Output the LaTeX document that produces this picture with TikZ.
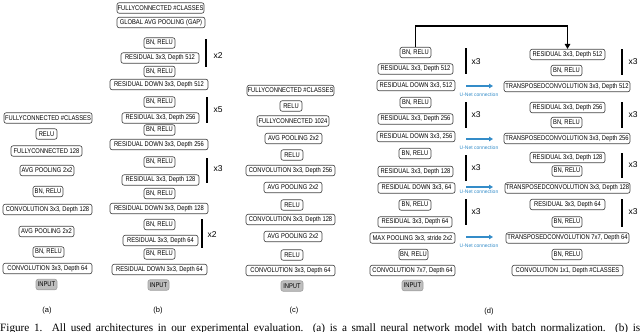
\documentclass[tikz,border=0pt]{standalone}
\usepackage{fontspec}
\usetikzlibrary{arrows.meta}
\newfontfamily\boxfont[FakeStretch=0.84]{Liberation Sans}
\newfontfamily\labfont{Liberation Sans}
\newfontfamily\capfont{Liberation Serif}
\definecolor{unetblue}{RGB}{52,140,200}
\definecolor{boxline}{RGB}{70,70,70}
\definecolor{inpfill}{RGB}{190,190,190}
\tikzset{
  blk/.style={draw=boxline, fill=white, line width=0.65pt, rounded corners=2.2pt,
    minimum height=10.5pt, inner sep=0pt, align=center,
    font=\boxfont\fontsize{6.9}{7}\selectfont},
  inp/.style={blk, fill=inpfill, draw=inpfill!85!black},
  brk/.style={line width=1.3pt, black},
  rep/.style={font=\labfont\fontsize{8.5}{9}\selectfont, inner sep=0pt},
  panel/.style={font=\labfont\fontsize{7.5}{9}\selectfont, inner sep=0pt},
  unet/.style={line width=1.3pt, unetblue, -{Triangle[length=4pt,width=4.5pt]}},
  unetlab/.style={font=\labfont\fontsize{5}{6}\selectfont, text=unetblue, inner sep=0pt},
  loopline/.style={line width=1.8pt, black, -{Triangle[length=5pt,width=5.5pt]}}
}
\begin{document}
\begin{tikzpicture}[x=1pt,y=-1pt]
\useasboundingbox (0,0) rectangle (640,332);

% ---------------- (a) ----------------
\node[blk, minimum width=88] (a1) at (48,118) {FULLYCONNECTED \#CLASSES};
\node[blk, minimum width=21] (a2) at (46.5,134) {RELU};
\node[blk, minimum width=71] (a3) at (46.5,151) {FULLYCONNECTED 128};
\node[blk, minimum width=54] (a4) at (47,170.5) {AVG POOLING 2x2};
\node[blk, minimum width=30] (a5) at (48,191.5) {BN, RELU};
\node[blk, minimum width=89] (a6) at (47.5,209.5) {CONVOLUTION 3x3, Depth 128};
\node[blk, minimum width=55] (a7) at (46.5,231.5) {AVG POOLING 2x2};
\node[blk, minimum width=31] (a8) at (48.5,252) {BN, RELU};
\node[blk, minimum width=89] (a9) at (47.5,268.5) {CONVOLUTION 3x3, Depth 64};
\node[inp, minimum width=21] (a0) at (46.5,284.5) {INPUT};
\node[panel] (la) at (47,311) {(a)};

% ---------------- (b) ----------------
\node[blk, minimum width=87] (b1) at (160.5,8) {FULLYCONNECTED \#CLASSES};
\node[blk, minimum width=88] (b2) at (161,22.5) {GLOBAL AVG POOLING (GAP)};
\node[blk, minimum width=31] (b3) at (159.5,43) {BN, RELU};
\node[blk, minimum width=78] (b4) at (160,58) {RESIDUAL 3x3, Depth 512};
\node[blk, minimum width=31] (b5) at (159.5,71.5) {BN, RELU};
\node[blk, minimum width=98] (b6) at (159,84.5) {RESIDUAL DOWN 3x3, Depth 512};
\node[blk, minimum width=31] (b7) at (159.5,102) {BN, RELU};
\node[blk, minimum width=77] (b8) at (160.5,118) {RESIDUAL 3x3, Depth 256};
\node[blk, minimum width=31] (b9) at (159.5,130) {BN, RELU};
\node[blk, minimum width=98] (b10) at (159,144.5) {RESIDUAL DOWN 3x3, Depth 256};
\node[blk, minimum width=31] (b11) at (159.5,162) {BN, RELU};
\node[blk, minimum width=77] (b12) at (160.5,180) {RESIDUAL 3x3, Depth 128};
\node[blk, minimum width=31] (b13) at (159.5,193.5) {BN, RELU};
\node[blk, minimum width=98] (b14) at (159,208.5) {RESIDUAL DOWN 3x3, Depth 128};
\node[blk, minimum width=31] (b15) at (159.5,224.5) {BN, RELU};
\node[blk, minimum width=75] (b16) at (160.5,240.5) {RESIDUAL 3x3, Depth 64};
\node[blk, minimum width=31] (b17) at (159.5,254) {BN, RELU};
\node[blk, minimum width=95] (b18) at (159.5,269.5) {RESIDUAL DOWN 3x3, Depth 64};
\node[inp, minimum width=21] (b0) at (158.5,285) {INPUT};
\node[panel] (lb) at (158,311) {(b)};

\draw[brk] (206,39) -- (206,67);  \node[rep] (rb1) at (218,56) {x2};
\draw[brk] (207,97) -- (207,123); \node[rep] (rb2) at (218,110) {x5};
\draw[brk] (207,158) -- (207,183); \node[rep] (rb3) at (218,169) {x3};
\draw[brk] (202,219) -- (202,248); \node[rep] (rb4) at (212,235) {x2};

% ---------------- (c) ----------------
\node[blk, minimum width=87] (c1) at (290.5,90.5) {FULLYCONNECTED \#CLASSES};
\node[blk, minimum width=22] (c2) at (291,106) {RELU};
\node[blk, minimum width=72] (c3) at (293,121) {FULLYCONNECTED 1024};
\node[blk, minimum width=57] (c4) at (293.5,138.5) {AVG POOLING 2x2};
\node[blk, minimum width=22] (c5) at (292,155) {RELU};
\node[blk, minimum width=89] (c6) at (290.5,170.5) {CONVOLUTION 3x3, Depth 256};
\node[blk, minimum width=58] (c7) at (293,187.5) {AVG POOLING 2x2};
\node[blk, minimum width=22] (c8) at (292,205) {RELU};
\node[blk, minimum width=89] (c9) at (290.5,219.5) {CONVOLUTION 3x3, Depth 128};
\node[blk, minimum width=58] (c10) at (293,236.5) {AVG POOLING 2x2};
\node[blk, minimum width=22] (c11) at (292,255) {RELU};
\node[blk, minimum width=89] (c12) at (290.5,270.5) {CONVOLUTION 3x3, Depth 64};
\node[inp, minimum width=22] (c0) at (292,286) {INPUT};
\node[panel] (lc) at (294,311) {(c)};

% ---------------- (d) left ----------------
\node[blk, minimum width=31] (d1) at (415.5,52.5) {BN, RELU};
\node[blk, minimum width=75] (d2) at (415.5,69) {RESIDUAL 3x3, Depth 512};
\node[blk, minimum width=78] (d3) at (416,85.5) {RESIDUAL DOWN 3x3, 512};
\node[blk, minimum width=31] (d4) at (415.5,102.5) {BN, RELU};
\node[blk, minimum width=75] (d5) at (415.5,119) {RESIDUAL 3x3, Depth 256};
\node[blk, minimum width=78] (d6) at (416,136.5) {RESIDUAL DOWN 3x3, 256};
\node[blk, minimum width=32] (d7) at (415,153.5) {BN, RELU};
\node[blk, minimum width=75] (d8) at (415.5,171.5) {RESIDUAL 3x3, Depth 128};
\node[blk, minimum width=77] (d9) at (416.5,188) {RESIDUAL DOWN 3x3, 64};
\node[blk, minimum width=32] (d10) at (415,205) {BN, RELU};
\node[blk, minimum width=74] (d11) at (415,222) {RESIDUAL 3x3, Depth 64};
\node[blk, minimum width=85] (d12) at (412.5,238) {MAX POOLING 3x3, stride 2x2};
\node[blk, minimum width=29] (d13) at (413.5,254.5) {BN, RELU};
\node[blk, minimum width=85] (d14) at (412.5,270.5) {CONVOLUTION 7x7, Depth 64};
\node[inp, minimum width=21] (d0) at (412.5,285.5) {INPUT};
\node[panel] (ld) at (489,312) {(d)};

\draw[brk] (466,48) -- (466,74);   \node[rep] (rd1) at (476,62) {x3};
\draw[brk] (466,102) -- (466,128); \node[rep] (rd2) at (476,115) {x3};
\draw[brk] (466,155) -- (466,181); \node[rep] (rd3) at (476,168) {x3};
\draw[brk] (466,199) -- (466,225); \node[rep] (rd4) at (476,212) {x3};

% ---------------- (d) right ----------------
\node[blk, minimum width=75] (e1) at (567.5,54.5) {RESIDUAL 3x3, Depth 512};
\node[blk, minimum width=31] (e2) at (566.5,70.5) {BN, RELU};
\node[blk, minimum width=126] (e3) at (567,86.5) {TRANSPOSEDCONVOLUTION 3x3, Depth 512};
\node[blk, minimum width=75] (e4) at (567.5,107.5) {RESIDUAL 3x3, Depth 256};
\node[blk, minimum width=31] (e5) at (566.5,122.5) {BN, RELU};
\node[blk, minimum width=126] (e6) at (567,138.5) {TRANSPOSEDCONVOLUTION 3x3, Depth 256};
\node[blk, minimum width=75] (e7) at (567.5,157.5) {RESIDUAL 3x3, Depth 128};
\node[blk, minimum width=30] (e8) at (567,171) {BN, RELU};
\node[blk, minimum width=125] (e9) at (567.5,188) {TRANSPOSEDCONVOLUTION 3x3, Depth 128};
\node[blk, minimum width=75] (e10) at (567.5,204.5) {RESIDUAL 3x3, Depth 64};
\node[blk, minimum width=30] (e11) at (567,222) {BN, RELU};
\node[blk, minimum width=123] (e12) at (567.5,238) {TRANSPOSEDCONVOLUTION 7x7, Depth 64};
\node[blk, minimum width=30] (e13) at (567,254.5) {BN, RELU};
\node[blk, minimum width=111] (e14) at (567.5,270.5) {CONVOLUTION 1x1, Depth \#CLASSES};

\draw[brk] (622,49) -- (622,75);   \node[rep] (re1) at (633,62) {x3};
\draw[brk] (622,102) -- (622,128); \node[rep] (re2) at (633,115) {x3};
\draw[brk] (622,153) -- (622,178); \node[rep] (re3) at (633,165) {x3};
\draw[brk] (622,199) -- (622,227); \node[rep] (re4) at (633,212) {x3};

% loop connection from encoder top to decoder top
\coordinate (top) at (415.5,26);
\draw[loopline] (d1.north) -- (top) -| (e1.north);

% U-Net connections
\coordinate (u1s) at (466,86);  \coordinate (u1e) at (493,86);
\coordinate (u2s) at (466,139); \coordinate (u2e) at (493,139);
\coordinate (u3s) at (466,187); \coordinate (u3e) at (493,187);
\coordinate (u4s) at (466,237); \coordinate (u4e) at (493,237);
\draw[unet] (u1s) -- (u1e);
\draw[unet] (u2s) -- (u2e);
\draw[unet] (u3s) -- (u3e);
\draw[unet] (u4s) -- (u4e);
\node[unetlab] (ul1) at (479,95) {U-Net connection};
\node[unetlab] (ul2) at (479,148) {U-Net connection};
\node[unetlab] (ul3) at (479,192) {U-Net connection};
\node[unetlab] (ul4) at (479,246) {U-Net connection};

% caption (cut at the bottom edge)
\node[anchor=base west, inner sep=0pt, font=\capfont\fontsize{11.2}{13}\selectfont] (cap) at (0,331.5)
  {\makebox[640pt][s]{Figure 1. All used architectures in our experimental evaluation. (a) is a small neural network model with batch normalization. (b) is}};
\end{tikzpicture}
\end{document}
